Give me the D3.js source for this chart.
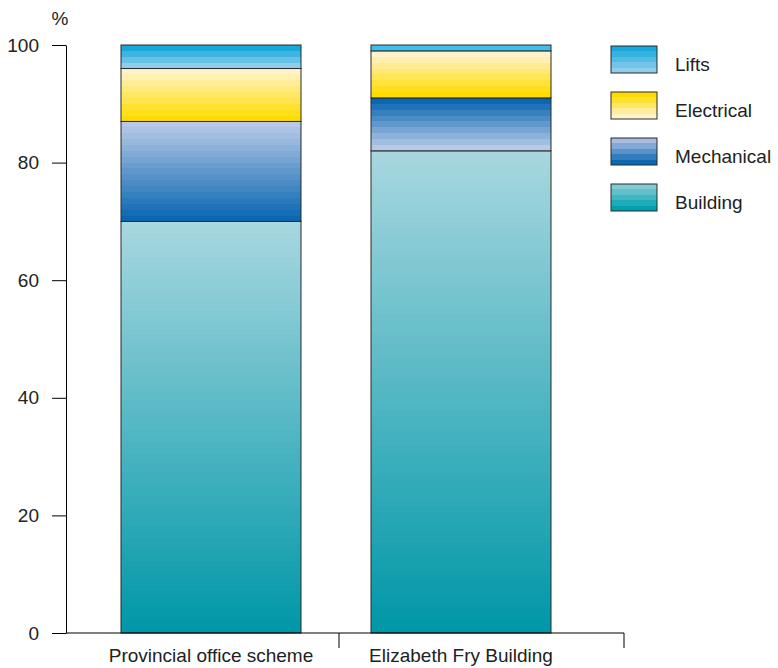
<!DOCTYPE html>
<html>
<head>
<meta charset="utf-8">
<script src="https://cdn.jsdelivr.net/npm/d3@7"></script>
<style>
  body { margin: 0; background: #fff; }
  text { font-family: "Liberation Sans", Arial, sans-serif; fill: #222; }
</style>
</head>
<body>
<div id="chart"></div>
<script>
// Data
const categories = ["Provincial office scheme", "Elizabeth Fry Building"];
const series = ["Building", "Mechanical", "Electrical", "Lifts"];
const building = [70, 82];
const mechanical = [17, 9];
const electrical = [9, 8];
const lifts = [4, 1];
const yTicks = [0, 20, 40, 60, 80, 100];

// gradient colours (top, bottom) per series
const shades = {
  Building: ["#a7d7df", "#0097a8"],
  Mechanical: ["#b7c9e7", "#0a67b1"],
  Electrical: ["#fff3cc", "#ffdb00"],
  Lifts: ["#19a8dc", "#8fcdec"]
};
const legendShades = {
  Lifts: ["#19a8dc", "#8fcdec"],
  Electrical: ["#ffdb00", "#fff3cc"],
  Mechanical: ["#a9bde2", "#0a67b1"],
  Building: ["#80ccd2", "#00a0b0"]
};
// Elizabeth Fry mechanical runs dark to light
const flipped = [[], ["Mechanical"]];

const table = categories.map((c, i) => ({
  category: c,
  Building: building[i],
  Mechanical: mechanical[i],
  Electrical: electrical[i],
  Lifts: lifts[i]
}));

const width = 778, height = 668;
const svg = d3.select("#chart").append("svg")
  .attr("width", width).attr("height", height);
const defs = svg.append("defs");

function stepGradient(id, top, bottom, n) {
  const g = defs.append("linearGradient").attr("id", id)
    .attr("x1", 0).attr("y1", 0).attr("x2", 0).attr("y2", 1);
  const ip = d3.interpolateRgb(top, bottom);
  for (let i = 0; i < n; i++) {
    const col = n === 1 ? "#3ec0ec" : ip(i / (n - 1));
    g.append("stop").attr("offset", i / n).attr("stop-color", col);
    g.append("stop").attr("offset", (i + 1) / n).attr("stop-color", col);
  }
  return "url(#" + id + ")";
}

// Scales
const x = d3.scaleBand()
  .domain(categories)
  .range([86, 586])
  .paddingInner(0.28)
  .paddingOuter(0.14);

const y = d3.scaleLinear().domain([0, 100]).range([633, 45]);

const stacked = d3.stack().keys(series)(table);

// Bars
const layers = svg.append("g").selectAll("g")
  .data(stacked)
  .join("g");

layers.selectAll("rect")
  .data(d => d.map((v, i) => ({ key: d.key, i, y0: v[0], y1: v[1] })))
  .join("rect")
  .attr("x", d => x(categories[d.i]))
  .attr("y", d => y(d.y1))
  .attr("width", x.bandwidth())
  .attr("height", d => y(d.y0) - y(d.y1))
  .attr("fill", d => {
    const h = y(d.y0) - y(d.y1);
    let [a, b] = shades[d.key];
    if (flipped[d.i].includes(d.key)) [a, b] = [b, a];
    return stepGradient("g-" + d.key + "-" + d.i, a, b, Math.max(1, Math.round(h / 6)));
  })
  .attr("stroke", "#2b2b2b")
  .attr("stroke-width", 1);

// Y axis
const yAxis = d3.axisLeft(y).tickValues(yTicks).tickSize(14).tickPadding(13).tickSizeOuter(0);
const gy = svg.append("g").attr("transform", "translate(66,0)").call(yAxis);
gy.select(".domain").attr("stroke", "#000");
gy.selectAll(".tick line").attr("stroke", "#000");
gy.selectAll(".tick text").style("font-size", "19px").attr("fill", "#222");

svg.append("text")
  .attr("x", 60).attr("y", 25)
  .attr("text-anchor", "middle")
  .style("font-size", "19px")
  .text("%");

// X axis
svg.append("line")
  .attr("x1", 66).attr("x2", 624)
  .attr("y1", y(0)).attr("y2", y(0))
  .attr("stroke", "#000");

const seps = [x(categories[0]) + x.bandwidth() + (x.step() - x.bandwidth()) / 2 + 3, 624];
svg.selectAll(".sep")
  .data(seps)
  .join("line")
  .attr("class", "sep")
  .attr("x1", d => d).attr("x2", d => d)
  .attr("y1", y(0)).attr("y2", y(0) + 15)
  .attr("stroke", "#000");

svg.selectAll(".cat")
  .data(categories)
  .join("text")
  .attr("class", "cat")
  .attr("x", d => x(d) + x.bandwidth() / 2)
  .attr("y", 662)
  .attr("text-anchor", "middle")
  .style("font-size", "19px")
  .text(d => d);

// Legend
const legendOrder = ["Lifts", "Electrical", "Mechanical", "Building"];
const legend = svg.append("g").attr("transform", "translate(611,46)");
const items = legend.selectAll("g")
  .data(legendOrder)
  .join("g")
  .attr("transform", (d, i) => `translate(0, ${i * 46})`);

items.append("rect")
  .attr("width", 46).attr("height", 27)
  .attr("fill", d => stepGradient("lg-" + d, legendShades[d][0], legendShades[d][1], 5))
  .attr("stroke", "#2b2b2b");

items.append("text")
  .attr("x", 64).attr("y", 25)
  .style("font-size", "19px")
  .text(d => d);
</script>
</body>
</html>
